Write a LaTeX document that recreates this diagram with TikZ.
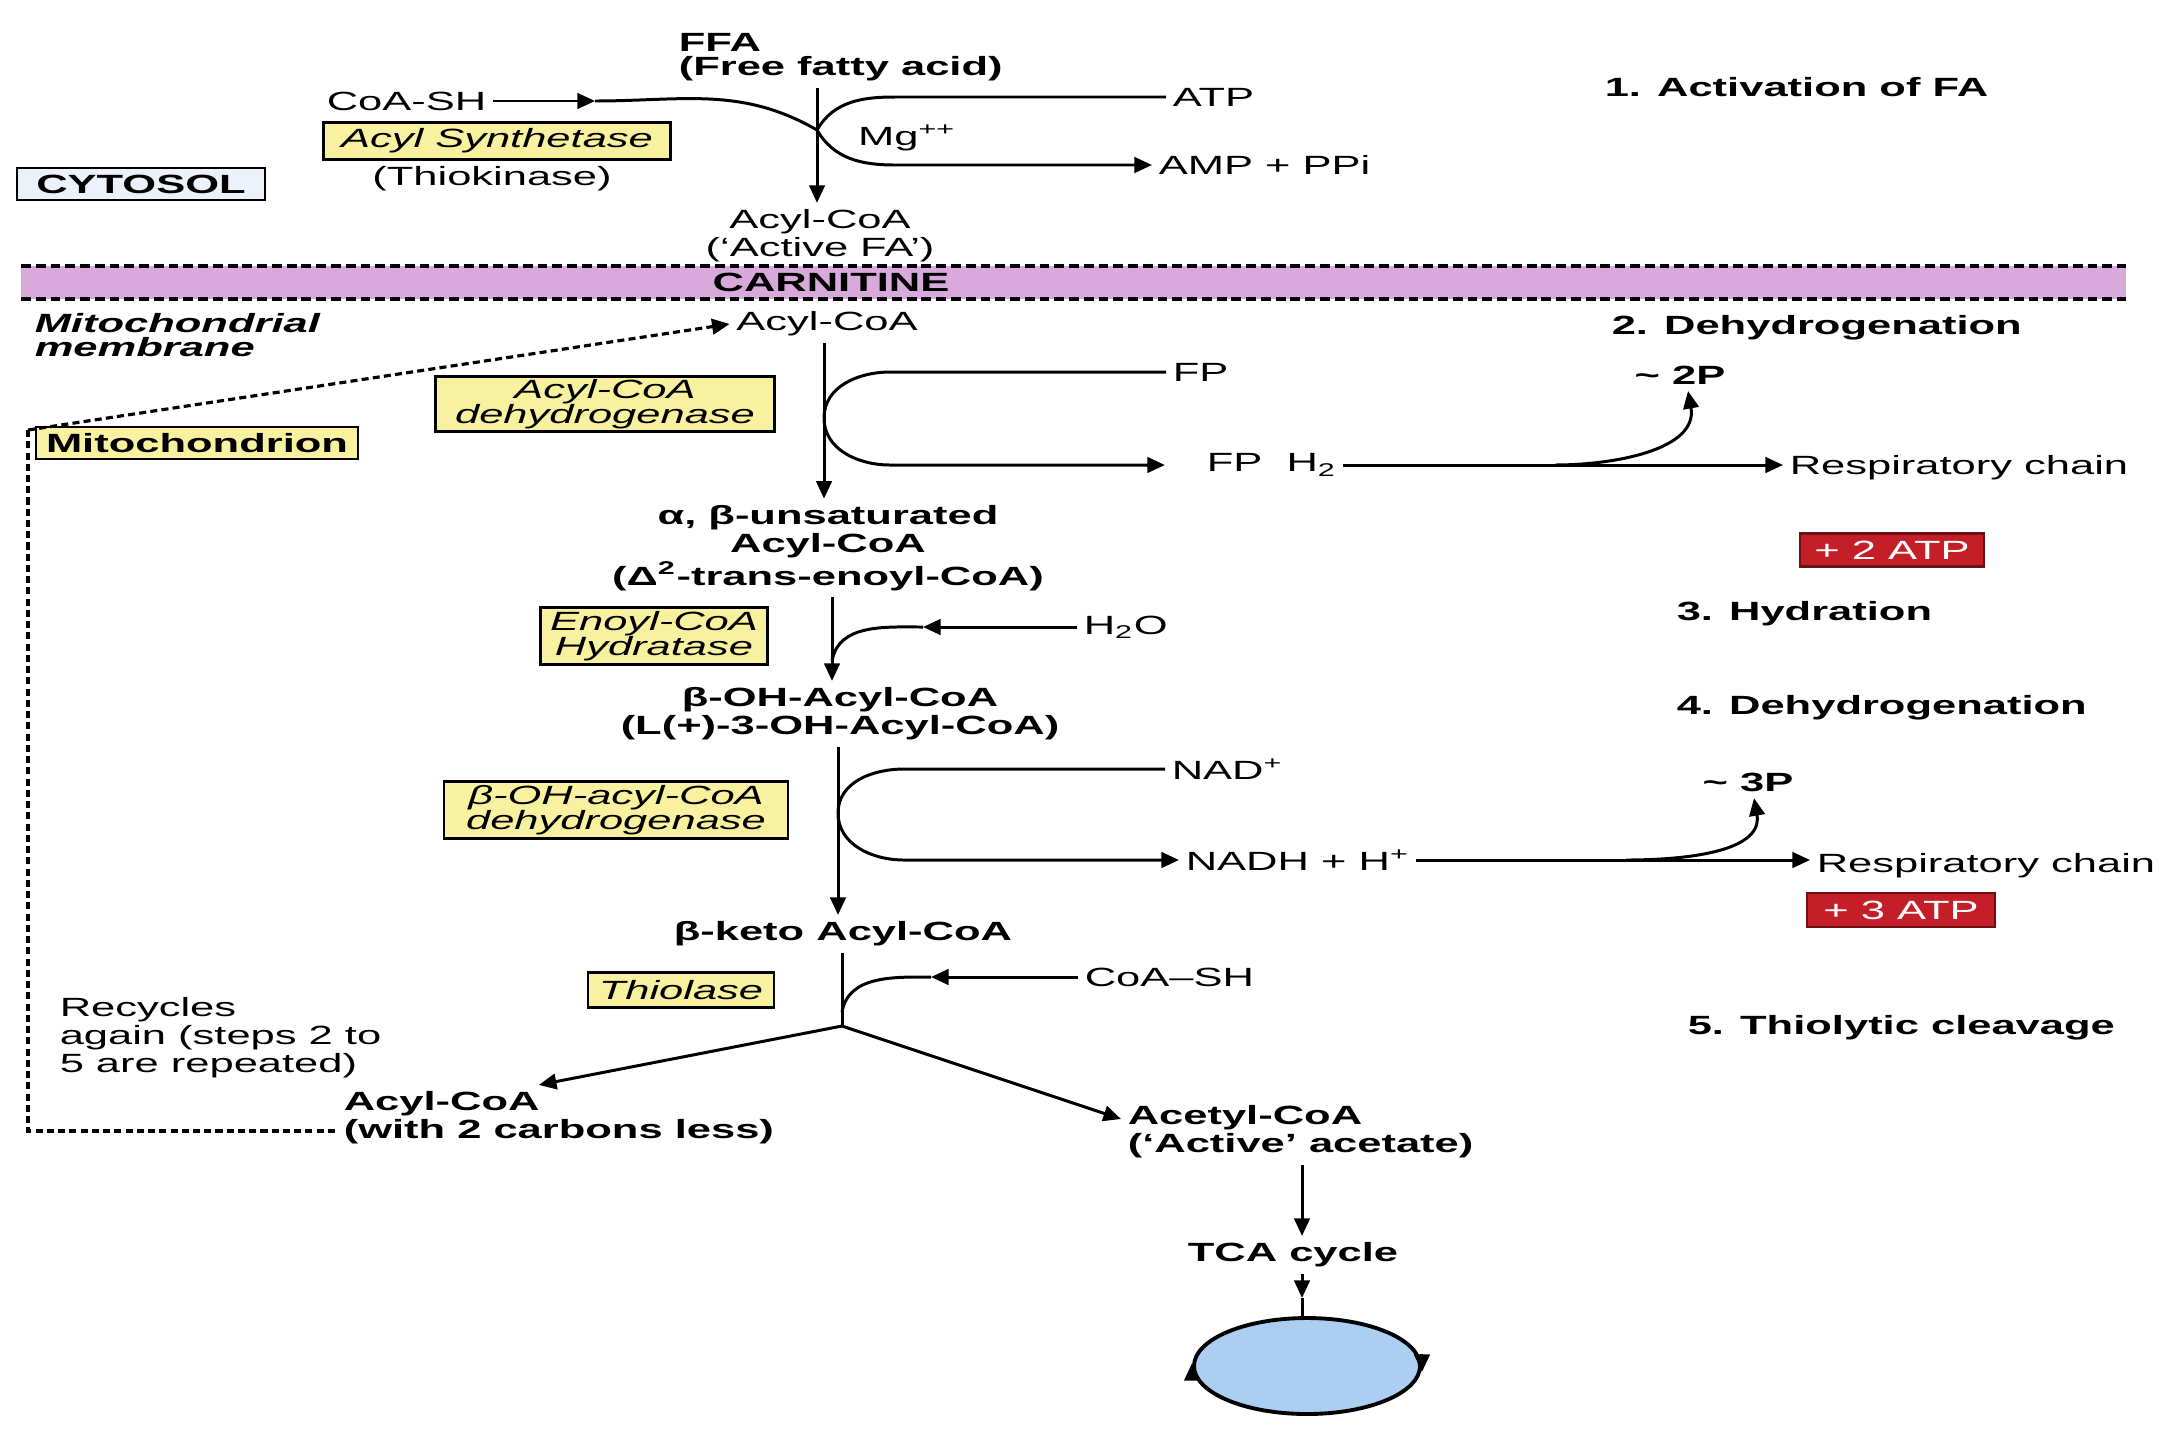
\documentclass[tikz,border=0pt]{standalone}
\usepackage{fontspec}
\setmainfont[FakeStretch=1.65]{Liberation Sans}
\usepackage{tikz}
\usetikzlibrary{arrows.meta,shapes.geometric}

\definecolor{enzyellow}{RGB}{248,242,160}
\definecolor{cytoblue}{RGB}{236,242,250}
\definecolor{carnpink}{RGB}{216,170,220}
\definecolor{atpred}{RGB}{196,30,40}
\definecolor{atpedge}{RGB}{110,15,20}
\definecolor{tcablue}{RGB}{172,206,240}

\tikzset{
  every node/.style={font=\fontsize{7.5}{6.8}\selectfont, inner sep=1.5pt},
  chem/.style={font=\fontsize{7.5}{6.8}\selectfont\bfseries},
  steplbl/.style={anchor=west, font=\fontsize{7.5}{6.8}\selectfont\bfseries},
  enzbox/.style={draw, fill=enzyellow, line width=0.8pt, align=center, inner sep=0pt,
    font=\fontsize{7.5}{7.0}\selectfont\itshape},
  cytobox/.style={draw, fill=cytoblue, line width=0.8pt, inner sep=0pt,
    font=\fontsize{7.5}{6.8}\selectfont\bfseries},
  mitobox/.style={draw, fill=enzyellow, line width=0.8pt, inner sep=0pt,
    font=\fontsize{7.5}{6.8}\selectfont\bfseries},
  atpbox/.style={draw=atpedge, fill=atpred, line width=0.8pt, inner sep=0pt, text=white},
  tcacycle/.style={ellipse, draw, fill=tcablue, line width=1.1pt, inner sep=0pt},
  carndash/.style={line width=1pt, dash pattern=on 2.8pt off 1.4pt},
  loopdash/.style={line width=0.9pt, dash pattern=on 2pt off 1.2pt}
}

\begin{document}
\begin{tikzpicture}[line width=0.85pt, >={Triangle[length=5pt,width=4.4pt]}]
\useasboundingbox (0,0) rectangle (21.6,-14.4);
\fill[white] (0,0) rectangle (21.6,-14.4);

% 1. activation in the cytosol
\node[chem, anchor=west, align=left] (ffa) at (6.72,-0.57) {FFA\\(Free fatty acid)};

\node[anchor=west] (coash1) at (3.20,-1.01) {CoA-SH};

\node[anchor=west] (atp) at (11.66,-0.97) {ATP};

\node[anchor=west] (amp) at (11.52,-1.65) {AMP + PPi};

\node (mg) at (9.07,-1.38) {Mg\textsuperscript{++}};

\node[enzbox, minimum width=3.47cm, minimum height=0.37cm] (synth) at (4.97,-1.41) {Acyl Synthetase};

\node (thio) at (4.92,-1.79) {(Thiokinase)};

\node[cytobox, minimum width=2.48cm, minimum height=0.32cm] (cyto) at (1.41,-1.84) {CYTOSOL};

\node[align=center] (acyl1) at (8.20,-2.36) {Acyl-CoA\\(`Active FA')};

\node[steplbl] (step1) at (15.98,-0.87) {1. Activation of FA};

\coordinate (j1) at (8.17,-1.30);
\coordinate (c1) at (5.95,-1.01);

\draw[->] (ffa.south -| j1) -- (acyl1.north -| j1);
\draw[->] (coash1) -- (c1);
\draw (c1) to[out=0,in=150] (j1);
\draw (atp.west) -- (8.95,-0.97) to[out=180,in=60] (j1);
\draw[->] (j1) to[out=-60,in=180] (8.95,-1.65) -- (amp.west);

% carnitine band
\fill[carnpink] (0.21,-2.66) rectangle (21.26,-2.99);
\draw[carndash] (0.21,-2.66) -- (21.26,-2.66);
\draw[carndash] (0.21,-2.99) -- (21.26,-2.99);
\node[chem] (carn) at (8.31,-2.82) {CARNITINE};

% 2. dehydrogenation
\node[anchor=west, align=left, font=\fontsize{7.5}{6.8}\selectfont\bfseries\itshape] (mitomem) at (0.28,-3.35) {Mitochondrial\\membrane};

\node (acyl2) at (8.27,-3.24) {Acyl-CoA};

\node[steplbl] (step2) at (16.05,-3.28) {2. Dehydrogenation};

\node[enzbox, minimum width=3.39cm, minimum height=0.55cm] (acdh) at (6.05,-4.04) {Acyl-CoA\\dehydrogenase};

\node[mitobox, minimum width=3.22cm, minimum height=0.32cm] (mito) at (1.97,-4.43) {Mitochondrion};

\node[anchor=west] (fp) at (11.66,-3.72) {FP};

\node[anchor=west] (fph2) at (12.00,-4.65) {FP\ \ H\textsubscript{2}};

\node[anchor=west] (resp1) at (17.83,-4.68) {Respiratory chain};

\node[chem] (p2) at (16.80,-3.75) {\textasciitilde\ 2P};

\node[chem, align=center] (unsat) at (8.28,-5.48) {α, β-unsaturated\\Acyl-CoA\\(Δ\textsuperscript{2}-trans-enoyl-CoA)};

\node[atpbox, minimum width=1.84cm, minimum height=0.33cm] (atp2) at (18.92,-5.50) {+ 2 ATP};

\coordinate (j2) at (8.24,-4.18);
\coordinate (b2) at (15.55,-4.65);

\draw[->] (acyl2.south -| j2) -- (unsat.north -| j2);
\draw (j2) to[out=90,in=180] (8.90,-3.72) -- (fp.west);
\draw[->, shorten >=10pt] (j2) to[out=-90,in=180] (8.90,-4.65) -- (fph2.west);
\draw[->] (fph2.east) -- (fph2.east -| resp1.west);
\draw[->] (b2) to[out=0,in=-80] ([xshift=0.8mm]p2.south);

% 3. hydration
\node[steplbl] (step3) at (16.70,-6.14) {3. Hydration};

\node[anchor=west] (h2o) at (10.77,-6.27) {H\textsubscript{2}O};

\node[enzbox, minimum width=2.27cm, minimum height=0.57cm] (enoyl) at (6.54,-6.36) {Enoyl-CoA\\Hydratase};

\node[chem, align=center] (bohacyl) at (8.40,-7.14) {β-OH-Acyl-CoA\\(L(+)-3-OH-Acyl-CoA)};

\coordinate (j3) at (8.32,-6.61);
\coordinate (c3) at (9.23,-6.27);

\draw[->] (unsat.south -| j3) -- (bohacyl.north -| j3);
\draw[->] (h2o.west) -- (c3);
\draw (c3) to[out=180,in=80] (j3);

% 4. dehydrogenation
\node[steplbl] (step4) at (16.70,-7.08) {4. Dehydrogenation};

\node[enzbox, minimum width=3.44cm, minimum height=0.57cm] (bohdh) at (6.16,-8.10) {β-OH-acyl-CoA\\dehydrogenase};

\node[anchor=west] (nad) at (11.65,-7.69) {NAD\textsuperscript{+}};

\node[anchor=west] (nadh) at (11.79,-8.60) {NADH + H\textsuperscript{+}};

\node[anchor=west] (resp2) at (18.10,-8.66) {Respiratory chain};

\node[chem] (p3) at (17.48,-7.82) {\textasciitilde\ 3P};

\node[atpbox, minimum width=1.88cm, minimum height=0.34cm] (atp3) at (19.01,-9.10) {+ 3 ATP};

\node[chem] (keto) at (8.43,-9.34) {β-keto Acyl-CoA};

\coordinate (j4) at (8.38,-8.13);
\coordinate (b4) at (16.26,-8.60);

\draw[->] (bohacyl.south -| j4) -- (keto.north -| j4);
\draw (j4) to[out=90,in=180] (9.04,-7.69) -- (nad.west);
\draw[->] (j4) to[out=-90,in=180] (9.04,-8.60) -- (nadh.west);
\draw[->] (nadh.east) -- (nadh.east -| resp2.west);
\draw[->] (b4) to[out=0,in=-80] ([xshift=0.6mm]p3.south);

% 5. thiolytic cleavage
\node[steplbl] (step5) at (16.81,-10.28) {5. Thiolytic cleavage};

\node[enzbox, minimum width=1.86cm, minimum height=0.35cm] (thiol) at (6.81,-9.90) {Thiolase};

\node[anchor=west] (coash2) at (10.78,-9.77) {CoA--SH};

\node[anchor=west, align=left] (recyc) at (0.53,-10.38) {Recycles\\again (steps 2 to\\5 are repeated)};

\node[chem, anchor=west, align=left] (acylless) at (3.37,-11.18) {Acyl-CoA\\(with 2 carbons less)};

\node[chem, anchor=west, align=left] (acetyl) at (11.21,-11.32) {Acetyl-CoA\\(`Active' acetate)};

\coordinate (j5) at (8.42,-10.26);
\coordinate (j5a) at (8.42,-10.12);
\coordinate (c5) at (9.31,-9.77);

\draw (keto.south -| j5) -- (j5);
\draw[->] (coash2.west) -- (c5);
\draw (c5) to[out=180,in=80] (j5a);
\draw[->] (j5) -- ([xshift=-2mm]acylless.north);
\draw[->] (j5) -- ([yshift=1.3mm]acetyl.west);

% recycling loop
\coordinate (corner) at (0.28,-4.30);
\coordinate (loopend) at (3.37,-11.31);

\draw[loopdash, ->] (corner) -- (acyl2.west);
\draw[loopdash] (corner) -- (0.28,-11.31) -- (loopend);

% TCA cycle
\node[chem] (tca) at (12.93,-12.55) {TCA cycle};

\node[tcacycle, minimum width=2.26cm, minimum height=0.96cm] (cycle) at (13.07,-13.66) {};

\coordinate (m6) at (13.02,-12.98);

\draw[->] (acetyl.south -| m6) -- (tca.north -| m6);
\draw[->] (tca.south -| m6) -- (m6);
\draw (m6) -- (cycle.north -| m6);
\draw[->] ([yshift=-1.2mm]cycle.west) -- ([yshift=0.3mm]cycle.west);
\draw[->] ([yshift=1.2mm]cycle.east) -- ([yshift=-0.6mm]cycle.east);
\end{tikzpicture}
\end{document}
